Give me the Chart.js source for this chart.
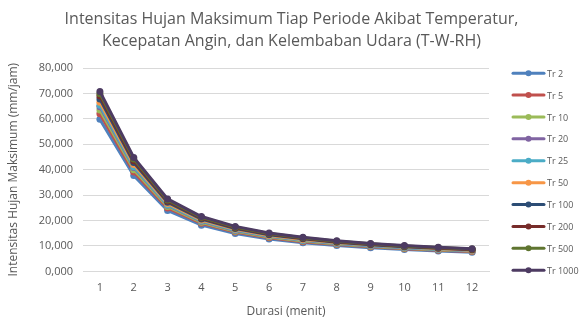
<!DOCTYPE html>
<html>
<head>
<meta charset="utf-8">
<script src="https://cdn.jsdelivr.net/npm/chart.js@4/dist/chart.umd.min.js"></script>
<style>
html, body { margin: 0; padding: 0; background: #fff; }
</style>
</head>
<body>
<canvas id="chart" width="579" height="321"></canvas>
<script>
// Durasi (menit) on x, intensitas (mm/jam) on y
const durasi = ['1', '2', '3', '4', '5', '6', '7', '8', '9', '10', '11', '12'];
const seriesNames = ['Tr 2', 'Tr 5', 'Tr 10', 'Tr 20', 'Tr 25', 'Tr 50', 'Tr 100', 'Tr 200', 'Tr 500', 'Tr 1000'];

const tr2    = [59.8, 37.7, 24.0, 18.2, 14.9, 12.7, 11.3, 10.2,  9.3,  8.6, 8.0, 7.5];
const tr5    = [62.0, 39.1, 24.9, 18.9, 15.5, 13.2, 11.7, 10.6,  9.7,  8.9, 8.3, 7.8];
const tr10   = [63.5, 40.0, 25.5, 19.3, 15.8, 13.5, 12.0, 10.8,  9.9,  9.1, 8.5, 8.0];
const tr20   = [64.8, 40.9, 26.0, 19.7, 16.1, 13.8, 12.2, 11.0, 10.1,  9.3, 8.7, 8.1];
const tr25   = [65.3, 41.2, 26.2, 19.9, 16.3, 13.9, 12.3, 11.1, 10.2,  9.4, 8.7, 8.2];
const tr50   = [66.5, 42.0, 26.7, 20.2, 16.6, 14.1, 12.5, 11.3, 10.4,  9.6, 8.9, 8.3];
const tr100  = [67.8, 42.8, 27.2, 20.6, 16.9, 14.4, 12.8, 11.5, 10.5,  9.7, 9.1, 8.5];
const tr200  = [69.0, 43.5, 27.7, 21.0, 17.2, 14.7, 13.0, 11.7, 10.7,  9.9, 9.2, 8.6];
const tr500  = [69.9, 44.2, 28.1, 21.3, 17.4, 14.9, 13.2, 11.9, 10.9, 10.0, 9.4, 8.8];
const tr1000 = [70.8, 44.8, 28.5, 21.6, 17.7, 15.1, 13.4, 12.1, 11.0, 10.2, 9.5, 8.9];

const seriesValues = [tr2, tr5, tr10, tr20, tr25, tr50, tr100, tr200, tr500, tr1000];
const seriesColors = ['#4F81BD', '#C0504D', '#9BBB59', '#8064A2', '#4BACC6',
                      '#F79646', '#2C4D75', '#772C2A', '#5F7530', '#4D3B62'];

const yTickLabels = ['0,000', '10,000', '20,000', '30,000', '40,000', '50,000', '60,000', '70,000', '80,000'];
const titleLines = ['Intensitas Hujan Maksimum Tiap Periode Akibat Temperatur,',
                    'Kecepatan Angin, dan Kelembaban Udara (T-W-RH)'];

const fontName = '"Open Sans", sans-serif';
const textColor = '#595959';

// title centred on the whole canvas (the built-in one centres over the plot only)
const pageTitle = {
    id: 'pageTitle',
    afterDraw(chart) {
        const ctx = chart.ctx;
        ctx.save();
        ctx.font = '16px ' + fontName;
        ctx.fillStyle = textColor;
        ctx.textAlign = 'center';
        ctx.textBaseline = 'middle';
        titleLines.forEach(function(line, i) {
            ctx.fillText(line, chart.width / 2 + 2, 19 + i * 22);
        });
        ctx.restore();
    }
};

// legend on the right, drawn by hand so it matches the Excel look
const sideLegend = {
    id: 'sideLegend',
    afterDraw(chart) {
        const ctx = chart.ctx;
        const area = chart.chartArea;
        const sets = chart.data.datasets;
        const gap = 21.9;
        const mid = (area.top + area.bottom) / 2 + 2;
        const x0 = area.right + 24;
        ctx.save();
        ctx.font = '9px ' + fontName;
        ctx.textBaseline = 'middle';
        ctx.textAlign = 'left';
        sets.forEach(function(ds, i) {
            const y = mid + (i - (sets.length - 1) / 2) * gap;
            ctx.strokeStyle = ds.borderColor;
            ctx.lineWidth = 3;
            ctx.lineCap = 'round';
            ctx.beginPath();
            ctx.moveTo(x0, y);
            ctx.lineTo(x0 + 31, y);
            ctx.stroke();
            ctx.fillStyle = ds.borderColor;
            ctx.beginPath();
            ctx.arc(x0 + 15.5, y, 3, 0, Math.PI * 2);
            ctx.fill();
            ctx.fillStyle = textColor;
            ctx.fillText(ds.label, x0 + 34, y + 1);
        });
        ctx.restore();
    }
};

const datasets = seriesNames.map(function(name, i) {
    return {
        label: name,
        data: seriesValues[i],
        borderColor: seriesColors[i],
        backgroundColor: seriesColors[i],
        borderWidth: 3,
        pointRadius: 3.5,
        pointBorderWidth: 0,
        pointBackgroundColor: seriesColors[i],
        tension: 0,
        order: seriesNames.length - i
    };
});

new Chart(document.getElementById('chart').getContext('2d'), {
    type: 'line',
    data: { labels: durasi, datasets: datasets },
    options: {
        responsive: false,
        animation: false,
        layout: { padding: { left: 0, right: 90, top: 68, bottom: 2 } },
        plugins: {
            legend: { display: false },
            tooltip: { enabled: false },
            title: { display: false }
        },
        scales: {
            x: {
                offset: true,
                grid: { display: false, drawTicks: false },
                border: { display: true, color: '#d9d9d9', width: 1 },
                ticks: { color: textColor, font: { family: fontName, size: 11 }, padding: 10, maxRotation: 0 },
                title: { display: true, text: 'Durasi (menit)', color: textColor,
                         font: { family: fontName, size: 12 }, padding: { top: 0, bottom: 0 } }
            },
            y: {
                min: 0,
                max: 80,
                grid: { color: '#d9d9d9', drawTicks: false },
                border: { display: false },
                ticks: {
                    stepSize: 10,
                    color: textColor,
                    font: { family: fontName, size: 11 },
                    padding: 10,
                    callback: function(value, index) { return yTickLabels[index]; }
                },
                title: { display: true, text: 'Intensitas Hujan Maksimum (mm/jam)', color: textColor,
                         font: { family: fontName, size: 12 }, padding: { top: 6, bottom: 4 } },
                afterFit: function(scale) { scale.width = 83; }
            }
        }
    },
    plugins: [pageTitle, sideLegend]
});
</script>
</body>
</html>
